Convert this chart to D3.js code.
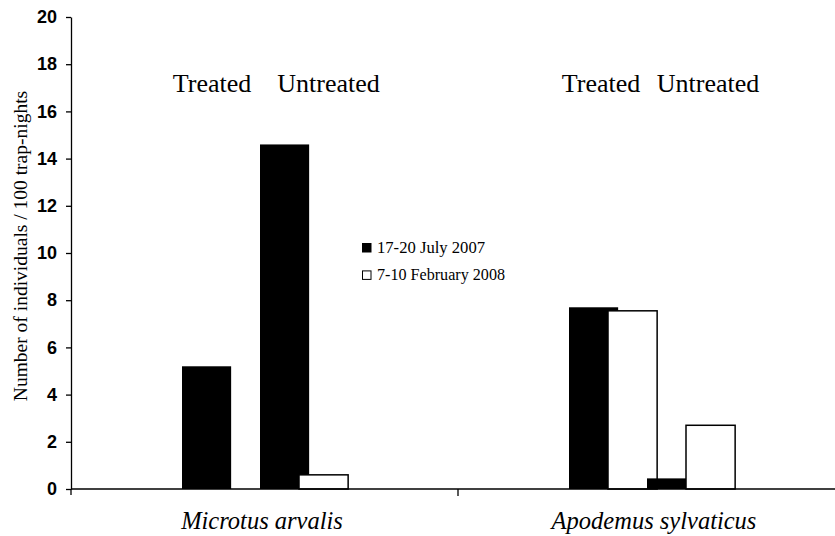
<!DOCTYPE html>
<html><head><meta charset="utf-8">
<script src="https://cdn.jsdelivr.net/npm/d3@7"></script>
<style>body{margin:0;background:#fff}svg{display:block}
.serif{font-family:'Liberation Serif','Times New Roman',serif}
.sans{font-family:'Liberation Sans',Arial,sans-serif}</style>
</head><body>
<svg id="c" width="835" height="536"></svg>
<script>
const species = ["Microtus arvalis", "Apodemus sylvaticus"];
const treatments = ["Treated", "Untreated"];
const seasons = ["17-20 July 2007", "7-10 February 2008"];
const julyValues = [5.2, 14.6, 7.7, 0.45];   // species x treatment
const febValues  = [0, 0.6, 7.55, 2.7];
const yTicks = [0, 2, 4, 6, 8, 10, 12, 14, 16, 18, 20];

(function () {
const svg = d3.select("#c");
const mLeft = 71, mBottom = 489, mTop = 17;
const y = d3.scaleLinear().domain([0, 20]).range([mBottom, mTop]);
const x = d3.scaleBand().domain(species).range([mLeft, mLeft + 2 * 387]);
const sub = d3.scaleBand().domain(d3.range(4)).range([111, 111 + 4 * 39]);
const barW = sub.bandwidth() * 1.26;

// bars
const bars = [];
species.forEach((s, si) => {
  treatments.forEach((t, ti) => {
    const i = si * 2 + ti;
    bars.push({s, k: ti * 2, v: julyValues[i], season: 0});
    bars.push({s, k: ti * 2 + 1, v: febValues[i], season: 1});
  });
});
svg.append("g").selectAll("rect").data(bars.filter(d => d.v > 0)).join("rect")
  .attr("x", d => x(d.s) + sub(d.k))
  .attr("y", d => y(d.v))
  .attr("width", barW)
  .attr("height", d => mBottom - y(d.v))
  .attr("fill", d => d.season === 0 ? "#000" : "#fff")
  .attr("stroke", "#000")
  .attr("stroke-width", d => d.season === 0 ? 0 : 1.5);

// y axis
const ya = svg.append("g").attr("transform", `translate(${mLeft},0)`)
  .call(d3.axisLeft(y).tickValues(yTicks).tickSize(5).tickSizeOuter(0).tickPadding(9));
ya.selectAll("text").attr("class", "sans").attr("font-family", null)
  .attr("font-weight", "bold").attr("font-size", 18).attr("fill", "#000");
ya.attr("font-family", null);
ya.selectAll("line,path").attr("stroke", "#000").attr("stroke-width", 1.3);

// x axis
svg.append("line").attr("x1", mLeft).attr("x2", 835).attr("y1", mBottom).attr("y2", mBottom)
  .attr("stroke", "#000").attr("stroke-width", 1.5);
svg.append("line").attr("x1", mLeft).attr("x2", mLeft).attr("y1", mBottom).attr("y2", mBottom + 6)
  .attr("stroke", "#000").attr("stroke-width", 1.3);
svg.append("line").attr("x1", x(species[1])).attr("x2", x(species[1])).attr("y1", mBottom).attr("y2", mBottom + 7)
  .attr("stroke", "#000").attr("stroke-width", 1.3);

// species labels
const spOff = [191, 196];
svg.append("g").selectAll("text").data(species).join("text")
  .attr("class", "serif")
  .attr("x", (d, i) => x(d) + spOff[i])
  .attr("y", 529)
  .attr("text-anchor", "middle")
  .attr("font-style", "italic").attr("font-size", 24.5)
  .text(d => d);

// treatment labels
const trOff = [[141, 257.5], [143, 250]];
species.forEach((s, si) => {
  treatments.forEach((t, ti) => {
    svg.append("text").attr("class", "serif")
      .attr("x", x(s) + trOff[si][ti])
      .attr("y", 92)
      .attr("text-anchor", "middle")
      .attr("font-size", 26)
      .text(t);
  });
});

// y label
svg.append("text").attr("class", "serif")
  .attr("transform", "translate(27,246) rotate(-90)")
  .attr("text-anchor", "middle")
  .attr("font-size", 19.5)
  .text("Number of individuals / 100 trap-nights");

// legend
const lg = svg.append("g").attr("transform", "translate(362,243)");
seasons.forEach((s, i) => {
  lg.append("rect").attr("x", 0.5).attr("y", i * 27.4 + 0.5).attr("width", 8.5).attr("height", 8.5)
    .attr("fill", i === 0 ? "#000" : "#fff").attr("stroke", "#000").attr("stroke-width", 1);
  lg.append("text").attr("class", "serif").attr("x", 15).attr("y", i * 27.4 + 9.5)
    .attr("font-size", 16).attr("textLength", i === 0 ? 108 : 128).attr("lengthAdjust", "spacingAndGlyphs")
    .text(s);
});
})();
</script>
</body></html>
